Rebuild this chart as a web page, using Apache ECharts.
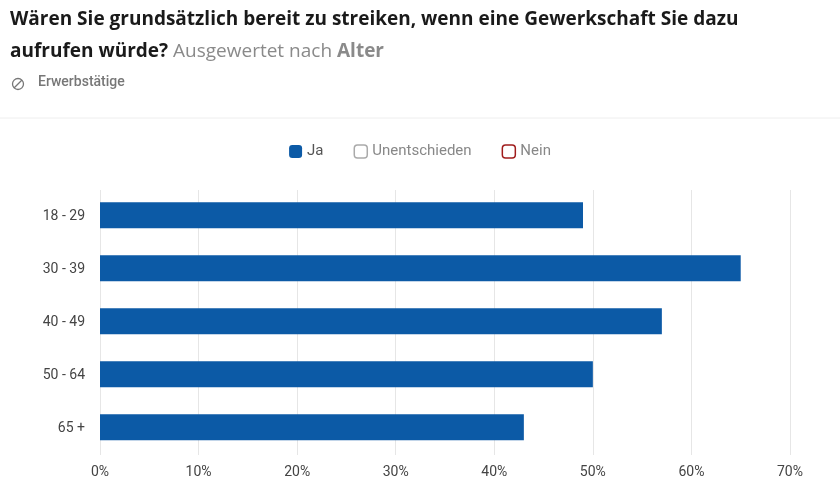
<!DOCTYPE html>
<html><head><meta charset="utf-8">
<script src="https://cdn.jsdelivr.net/npm/echarts@6/dist/echarts.min.js"></script>
<style>html,body{margin:0;padding:0;background:#fff}#c{width:840px;height:480px}</style>
</head><body><div id="c"></div>
<script>
const categories = ["18 - 29", "30 - 39", "40 - 49", "50 - 64", "65 +"];
const jaValues = [49, 65, 57, 50, 43];
const unentschiedenValues = [];
const neinValues = [];
const xTicks = [0, 10, 20, 30, 40, 50, 60, 70];

const chart = echarts.init(document.getElementById('c'));
chart.setOption({
  backgroundColor: '#fff',
  animation: false,
  graphic: [
    {type:'text', left:10, top:10, style:{text:'Wären Sie grundsätzlich bereit zu streiken, wenn eine Gewerkschaft Sie dazu', font:'bold 19px "Open Sans"', fill:'#1a1a1a'}},
    {type:'text', left:10, top:42, style:{text:'{b|aufrufen würde?} {g|Ausgewertet nach} {gb|Alter}', font:'19px "Open Sans"', rich:{
      b:{font:'bold 19px "Open Sans"', fill:'#1a1a1a'},
      g:{font:'19px "Open Sans"', fill:'#8a8a8a'},
      gb:{font:'bold 19px "Open Sans"', fill:'#8a8a8a'}}}},
    {type:'circle', shape:{cx:18, cy:84, r:5.5}, style:{fill:'none', stroke:'#777', lineWidth:1.3}},
    {type:'line', shape:{x1:14, y1:88, x2:22, y2:80}, style:{stroke:'#777', lineWidth:1.3}},
    {type:'text', left:38, top:75, style:{text:'Erwerbstätige', font:'500 14px Roboto', fill:'#777'}},
    {type:'line', shape:{x1:0, y1:118, x2:840, y2:118}, style:{stroke:'#eeeeee', lineWidth:1}},
    {type:'polyline', z:100, shape:{points:[[278.5,148.5],[281,151],[285,146]]}, style:{stroke:'#fff', lineWidth:1.6, fill:'none'}}
  ],
  legend: {
    top: 139, left: 'center', itemGap: 30, itemWidth: 13, itemHeight: 13,
    textStyle: {fontFamily: 'Roboto', fontSize: 15, color: '#555'},
    data: [
      {name:'Ja', icon:'roundRect', itemStyle:{color:'#0c5aa6', borderWidth:0}},
      {name:'Unentschieden', icon:'roundRect', itemStyle:{color:'#fff', borderColor:'#aaa', borderWidth:1.5}, textStyle:{color:'#888'}},
      {name:'Nein', icon:'roundRect', itemStyle:{color:'#fff', borderColor:'#a01c1c', borderWidth:1.5}, textStyle:{color:'#888'}}
    ],
    selectedMode: false
  },
  grid: {left: 100, right: 50, top: 190, bottom: 25, containLabel: false},
  xAxis: {
    type: 'value', min: 0, max: 70, interval: 10,
    axisLabel: {formatter: v => v + '%', fontFamily: 'Roboto', fontSize: 14, color: '#444', margin: 10},
    axisLine: {show: false}, axisTick: {show: false},
    splitLine: {lineStyle: {color: '#e6e6e6'}}
  },
  yAxis: {
    type: 'category', data: categories, inverse: true,
    axisLabel: {fontFamily: 'Roboto', fontSize: 14, color: '#444', margin: 15},
    axisLine: {show: false}, axisTick: {show: false}
  },
  series: [
    {name:'Ja', type:'bar', data: jaValues, barWidth: 26, itemStyle:{color:'#0c5aa6'}},
    {name:'Unentschieden', type:'bar', data: unentschiedenValues, itemStyle:{color:'#aaa'}},
    {name:'Nein', type:'bar', data: neinValues, itemStyle:{color:'#a01c1c'}}
  ]
});
</script></body></html>
